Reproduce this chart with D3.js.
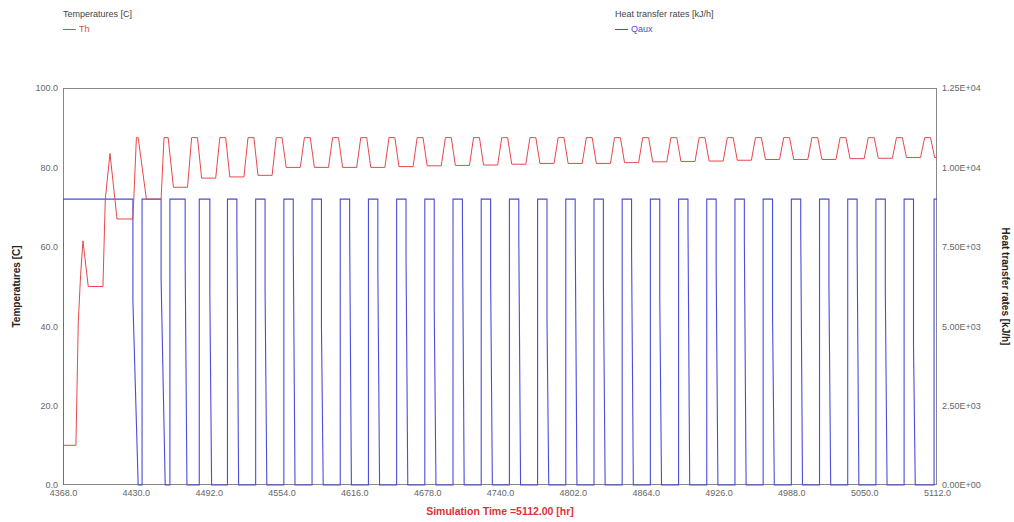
<!DOCTYPE html>
<html>
<head>
<meta charset="utf-8">
<script src="https://cdn.jsdelivr.net/npm/d3@7.9.0/dist/d3.min.js"></script>
<style>
  body { margin: 0; background: #fff; }
  svg { display: block; font-family: "Liberation Sans", Arial, sans-serif; }
</style>
</head>
<body>
<svg id="chart" width="1014" height="522"></svg>
<script>
// time axis ticks [hr]
const timeTicks = [4368, 4430, 4492, 4554, 4616, 4678, 4740, 4802, 4864, 4926, 4988, 5050, 5112];
const tempTicks = [0, 20, 40, 60, 80, 100];
const heatTicks = [0, 2500, 5000, 7500, 10000, 12500];

// Th [C]  (time, value)
const thSeries = [
  [4368, 15], [4368.5, 10], [4379, 10], [4381, 41], [4383, 53], [4385, 61.5],
  [4389.5, 50], [4402, 50], [4404, 72], [4408, 83.5], [4414, 67], [4427.5, 67],
  [4430.5, 87.5], [4432, 87.5], [4439, 72], [4451.5, 72], [4454, 87.5], [4457.5, 87.5],
  [4462, 75], [4474, 75], [4477.5, 87.5], [4482.5, 87.5], [4486, 77.3],
  [4498, 77.3], [4501.5, 87.5], [4506.5, 87.5], [4510, 77.6],
  [4522, 77.6], [4525.5, 87.5], [4530.5, 87.5], [4534, 78],
  [4546, 78], [4549.5, 87.5], [4554.5, 87.5], [4558, 80],
  [4570, 80], [4573.5, 87.5], [4578.5, 87.5], [4582, 80],
  [4594, 80], [4597.5, 87.5], [4602.5, 87.5], [4606, 80],
  [4618, 80], [4621.5, 87.5], [4626.5, 87.5], [4630, 80],
  [4642, 80], [4645.5, 87.5], [4650.5, 87.5], [4654, 80.2],
  [4666, 80.2], [4669.5, 87.5], [4674.5, 87.5], [4678, 80.4],
  [4690, 80.4], [4693.5, 87.5], [4698.5, 87.5], [4702, 80.5],
  [4714, 80.5], [4717.5, 87.5], [4722.5, 87.5], [4726, 80.6],
  [4738, 80.6], [4741.5, 87.5], [4746.5, 87.5], [4750, 80.8],
  [4762, 80.8], [4765.5, 87.5], [4770.5, 87.5], [4774, 81],
  [4786, 81], [4789.5, 87.5], [4794.5, 87.5], [4798, 81],
  [4810, 81], [4813.5, 87.5], [4818.5, 87.5], [4822, 81],
  [4834, 81], [4837.5, 87.5], [4842.5, 87.5], [4846, 81.2],
  [4858, 81.2], [4861.5, 87.5], [4866.5, 87.5], [4870, 81.4],
  [4882, 81.4], [4885.5, 87.5], [4890.5, 87.5], [4894, 81.5],
  [4906, 81.5], [4909.5, 87.5], [4914.5, 87.5], [4918, 81.6],
  [4930, 81.6], [4933.5, 87.5], [4938.5, 87.5], [4942, 81.8],
  [4954, 81.8], [4957.5, 87.5], [4962.5, 87.5], [4966, 82],
  [4978, 82], [4981.5, 87.5], [4986.5, 87.5], [4990, 82],
  [5002, 82], [5005.5, 87.5], [5010.5, 87.5], [5014, 82],
  [5026, 82], [5029.5, 87.5], [5034.5, 87.5], [5038, 82.2],
  [5050, 82.2], [5053.5, 87.5], [5058.5, 87.5], [5062, 82.3],
  [5074, 82.3], [5077.5, 87.5], [5082.5, 87.5], [5086, 82.5],
  [5098, 82.5], [5101.5, 87.5], [5106.5, 87.5], [5110, 82.5], [5112, 82.5]
];

// Qaux [kJ/h]  (time, value)
const qauxSeries = [
  [4368, 0], [4368, 9000], [4427.5, 9000], [4427.5, 5800], [4432, 0],
  [4435.3, 0], [4435.3, 9000], [4451.5, 9000], [4451.5, 6500], [4455, 0],
  [4459, 0], [4459, 9000], [4472, 9000], [4472, 7000], [4473.5, 0],
  [4484, 0], [4484, 9000], [4493, 9000], [4493, 6000], [4494.5, 0],
  [4508, 0], [4508, 9000], [4516, 9000], [4516, 8200], [4517.5, 0],
  [4532, 0], [4532, 9000], [4540, 9000], [4540, 6200], [4541.5, 0],
  [4556, 0], [4556, 9000], [4564, 9000], [4564, 7600], [4565.5, 0],
  [4580, 0], [4580, 9000], [4588, 9000], [4588, 5000], [4589.5, 0],
  [4604, 0], [4604, 9000], [4612, 9000], [4612, 8000], [4613.5, 0],
  [4628, 0], [4628, 9000], [4636, 9000], [4636, 6800], [4637.5, 0],
  [4652, 0], [4652, 9000], [4660, 9000], [4660, 7200], [4661.5, 0],
  [4676, 0], [4676, 9000], [4684, 9000], [4684, 5600], [4685.5, 0],
  [4700, 0], [4700, 9000], [4708, 9000], [4708, 8400], [4709.5, 0],
  [4724, 0], [4724, 9000], [4732, 9000], [4732, 6600], [4733.5, 0],
  [4748, 0], [4748, 9000], [4756, 9000], [4756, 7800], [4757.5, 0],
  [4772, 0], [4772, 9000], [4780, 9000], [4780, 5200], [4781.5, 0],
  [4796, 0], [4796, 9000], [4804, 9000], [4804, 8100], [4805.5, 0],
  [4820, 0], [4820, 9000], [4828, 9000], [4828, 6400], [4829.5, 0],
  [4844, 0], [4844, 9000], [4852, 9000], [4852, 7400], [4853.5, 0],
  [4868, 0], [4868, 9000], [4876, 9000], [4876, 5900], [4877.5, 0],
  [4892, 0], [4892, 9000], [4900, 9000], [4900, 8300], [4901.5, 0],
  [4916, 0], [4916, 9000], [4924, 9000], [4924, 6900], [4925.5, 0],
  [4940, 0], [4940, 9000], [4948, 9000], [4948, 7700], [4949.5, 0],
  [4964, 0], [4964, 9000], [4972, 9000], [4972, 5400], [4973.5, 0],
  [4988, 0], [4988, 9000], [4996, 9000], [4996, 8000], [4997.5, 0],
  [5012, 0], [5012, 9000], [5020, 9000], [5020, 6300], [5021.5, 0],
  [5036, 0], [5036, 9000], [5044, 9000], [5044, 7500], [5045.5, 0],
  [5060, 0], [5060, 9000], [5068, 9000], [5068, 6100], [5069.5, 0],
  [5084, 0], [5084, 9000], [5092, 9000], [5092, 4400], [5093.5, 0],
  [5109.5, 0], [5109.5, 9000], [5112, 9000]
];

const margin = { left: 63, right: 77, top: 88, bottom: 37 };
const width = 1014, height = 522;

const svg = d3.select("#chart");

const x = d3.scaleLinear().domain([4368, 5112]).range([margin.left, width - margin.right]);
const yT = d3.scaleLinear().domain([0, 100]).range([height - margin.bottom, margin.top]);
const yQ = d3.scaleLinear().domain([0, 12500]).range([height - margin.bottom, margin.top]);

function sciFormat(v) {
  const [m, e] = v.toExponential(2).split("e");
  const sign = e[0] === "-" ? "-" : "+";
  const digits = e.replace(/[+-]/, "").padStart(2, "0");
  return `${m}E${sign}${digits}`;
}

svg.append("defs").append("clipPath").attr("id", "plot-clip")
  .append("rect")
  .attr("x", margin.left).attr("y", margin.top - 1)
  .attr("width", width - margin.left - margin.right)
  .attr("height", height - margin.top - margin.bottom + 2);

// axes (labels only)
const tickStyle = g => {
  g.select(".domain").remove();
  g.selectAll("text").attr("fill", "#666").style("font-size", "9px");
};

svg.append("g")
  .attr("transform", `translate(${margin.left},0)`)
  .call(d3.axisLeft(yT).tickValues(tempTicks).tickSize(0).tickPadding(5).tickFormat(d3.format(".1f")))
  .call(tickStyle);

svg.append("g")
  .attr("transform", `translate(${width - margin.right},0)`)
  .call(d3.axisRight(yQ).tickValues(heatTicks).tickSize(0).tickPadding(5).tickFormat(sciFormat))
  .call(tickStyle);

svg.append("g")
  .attr("transform", `translate(0,${height - margin.bottom})`)
  .call(d3.axisBottom(x).tickValues(timeTicks).tickSize(0).tickPadding(5).tickFormat(d3.format(".1f")))
  .call(tickStyle);

// frame
svg.append("rect")
  .attr("x", margin.left + 0.5).attr("y", margin.top + 0.5)
  .attr("width", width - margin.left - margin.right - 1)
  .attr("height", height - margin.top - margin.bottom - 1)
  .attr("fill", "none").attr("stroke", "#888");

const plot = svg.append("g").attr("clip-path", "url(#plot-clip)");

plot.append("path")
  .datum(qauxSeries)
  .attr("fill", "none")
  .attr("stroke", "#4b4bdc")
  .attr("stroke-width", 1.1)
  .attr("d", d3.line().x(d => x(d[0])).y(d => yQ(d[1])));

plot.append("path")
  .datum(thSeries)
  .attr("fill", "none")
  .attr("stroke", "#e8474c")
  .attr("stroke-width", 1)
  .attr("d", d3.line().x(d => x(d[0])).y(d => yT(d[1])));

// legends
svg.append("text").attr("x", 63).attr("y", 17).attr("fill", "#444")
  .style("font-size", "9px").text("Temperatures [C]");
svg.append("line").attr("x1", 63).attr("x2", 76).attr("y1", 29.5).attr("y2", 29.5)
  .attr("stroke", "#e8474c");
svg.append("text").attr("x", 79).attr("y", 32).attr("fill", "#e8474c")
  .style("font-size", "9px").text("Th");

svg.append("text").attr("x", 615).attr("y", 17).attr("fill", "#444")
  .style("font-size", "9px").text("Heat transfer rates [kJ/h]");
svg.append("line").attr("x1", 615).attr("x2", 628).attr("y1", 29.5).attr("y2", 29.5)
  .attr("stroke", "#4b4bdc");
svg.append("text").attr("x", 631).attr("y", 32).attr("fill", "#4b4bdc")
  .style("font-size", "9px").text("Qaux");

// axis titles
const midY = (margin.top + height - margin.bottom) / 2;
svg.append("text")
  .attr("transform", `translate(20,${midY}) rotate(-90)`)
  .attr("text-anchor", "middle").attr("fill", "#222")
  .style("font-size", "10px").style("font-weight", "bold")
  .text("Temperatures [C]");

svg.append("text")
  .attr("transform", `translate(1002,${midY}) rotate(90)`)
  .attr("text-anchor", "middle").attr("fill", "#222")
  .style("font-size", "10px").style("font-weight", "bold")
  .text("Heat transfer rates [kJ/h]");

svg.append("text")
  .attr("x", (margin.left + width - margin.right) / 2).attr("y", 515)
  .attr("text-anchor", "middle").attr("fill", "#e0303a")
  .style("font-size", "10.5px").style("font-weight", "bold")
  .text("Simulation Time =5112.00 [hr]");
</script>
</body>
</html>
